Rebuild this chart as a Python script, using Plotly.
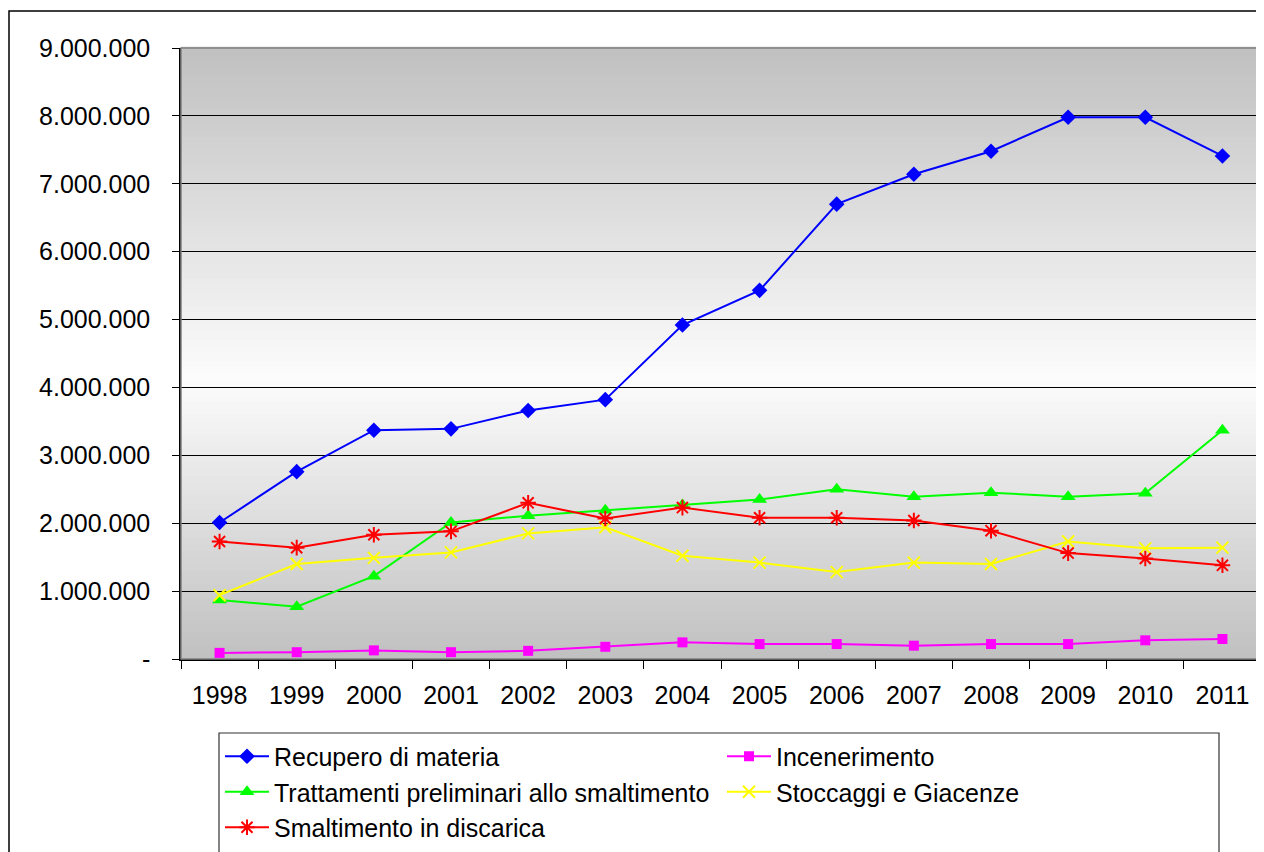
import plotly.graph_objects as go

years = ["1998", "1999", "2000", "2001", "2002", "2003", "2004",
         "2005", "2006", "2007", "2008", "2009", "2010", "2011"]

recupero = [2010000, 2760000, 3370000, 3390000, 3660000, 3820000, 4920000,
            5430000, 6700000, 7140000, 7480000, 7980000, 7980000, 7410000]
incenerimento = [90000, 100000, 127000, 100000, 120000, 180000, 245000,
                 220000, 220000, 196000, 220000, 220000, 275000, 295000]
trattamenti = [870000, 770000, 1220000, 2010000, 2110000, 2190000, 2270000,
               2350000, 2500000, 2390000, 2450000, 2390000, 2440000, 3370000]
stoccaggi = [940000, 1400000, 1490000, 1570000, 1850000, 1940000, 1520000,
             1420000, 1280000, 1420000, 1400000, 1730000, 1630000, 1640000]
smaltimento = [1730000, 1640000, 1830000, 1880000, 2300000, 2070000, 2230000,
               2080000, 2080000, 2040000, 1890000, 1560000, 1480000, 1380000]

series_names = ["Recupero di materia", "Incenerimento",
                "Trattamenti preliminari allo smaltimento",
                "Stoccaggi e Giacenze", "Smaltimento in discarica"]

y_tick_values = [0, 1000000, 2000000, 3000000, 4000000, 5000000,
                 6000000, 7000000, 8000000, 9000000]
y_tick_labels = ["-", "1.000.000", "2.000.000", "3.000.000", "4.000.000",
                 "5.000.000", "6.000.000", "7.000.000", "8.000.000", "9.000.000"]

FONT = "Liberation Sans, Arial, sans-serif"

styles = [
    dict(color="#0000ff", symbol="diamond", size=12, lw=2),
    dict(color="#ff00ff", symbol="square", size=10, lw=2),
    dict(color="#00ff00", symbol="triangle-up", size=13, lw=2),
    dict(color="#ffff00", symbol="x-thin-open", size=12, lw=2),
    dict(color="#ff0000", symbol="asterisk-open", size=13, lw=2),
]
values = [recupero, incenerimento, trattamenti, stoccaggi, smaltimento]

fig = go.Figure()
for name, vals, st in zip(series_names, values, styles):
    open_sym = st["symbol"].endswith("open")
    fig.add_trace(go.Scatter(
        x=years, y=vals, name=name, mode="lines+markers",
        line=dict(color=st["color"], width=st["lw"]),
        marker=dict(symbol=st["symbol"], size=st["size"], color=st["color"],
                    line=dict(color=st["color"], width=2 if open_sym else 0)),
    ))

# figure is placed at (8, 8) in the page (body margin)
W, H = 1256, 844
ML, MR, MT, MB = 173, 3, 40, 193
PW = W - ML - MR
PH = H - MT - MB

def px(xl):
    return (xl - ML) / PW

def py(yl):
    return (H - MB - yl) / PH

# gradient background (grey - white - grey)
shapes = []
N = 90
peak = 0.46
c_edge, c_mid = 192, 252
for i in range(N):
    f0 = i / N
    f1 = (i + 1) / N
    fm = (f0 + f1) / 2
    if fm <= peak:
        t = fm / peak
    else:
        t = (1 - fm) / (1 - peak)
    c = int(round(c_edge + (c_mid - c_edge) * t))
    shapes.append(dict(type="rect", xref="x domain", yref="y domain",
                       x0=0, x1=1, y0=f0, y1=f1 + 0.002, layer="below",
                       line=dict(width=0), fillcolor=f"rgb({c},{c},{c})"))
# plot area border (grey)
shapes.append(dict(type="rect", xref="x domain", yref="y domain",
                   x0=0, x1=1, y0=0, y1=1, layer="above",
                   line=dict(color="#808080", width=1.5)))
# outer chart frame
shapes.append(dict(type="rect", xref="paper", yref="paper",
                   x0=px(1), x1=px(W + 50), y0=py(H + 50), y1=py(3),
                   layer="above", line=dict(color="#000000", width=1.5)))
# legend frame
shapes.append(dict(type="rect", xref="paper", yref="paper",
                   x0=px(211), x1=px(1211), y0=py(H + 50), y1=py(725),
                   layer="above", line=dict(color="#333333", width=1.2)))

fig.update_layout(
    width=W, height=H,
    margin=dict(l=ML, r=MR, t=MT, b=MB, autoexpand=False),
    paper_bgcolor="white", plot_bgcolor="rgba(0,0,0,0)",
    font=dict(family=FONT, size=25, color="black"),
    shapes=shapes,
    showlegend=True,
    legend=dict(
        orientation="h", xref="container", yref="container",
        x=212 / W, y=1 - 725.5 / H, xanchor="left", yanchor="top",
        bgcolor="rgba(0,0,0,0)", borderwidth=0,
        font=dict(family=FONT, size=25, color="black"),
        entrywidth=443, entrywidthmode="pixels", itemwidth=44,
        traceorder="normal",
    ),
)
fig.update_xaxes(
    type="category", range=[-0.5, 13.5], tickson="boundaries",
    ticks="outside", ticklen=8,
    tickcolor="black", showline=True, linecolor="black", linewidth=1.5,
    showgrid=False, tickfont=dict(family=FONT, size=25, color="black"),
    ticklabelstandoff=13,
)
fig.update_yaxes(
    range=[0, 9000000], tickvals=y_tick_values, ticktext=y_tick_labels,
    ticks="outside", ticklen=7, tickcolor="black", showline=True,
    linecolor="black", linewidth=1.5, showgrid=True, gridcolor="#000000",
    gridwidth=1, zeroline=False,
    tickfont=dict(family=FONT, size=25, color="black"),
    ticklabelstandoff=17,
)

fig.write_html("out.html")
